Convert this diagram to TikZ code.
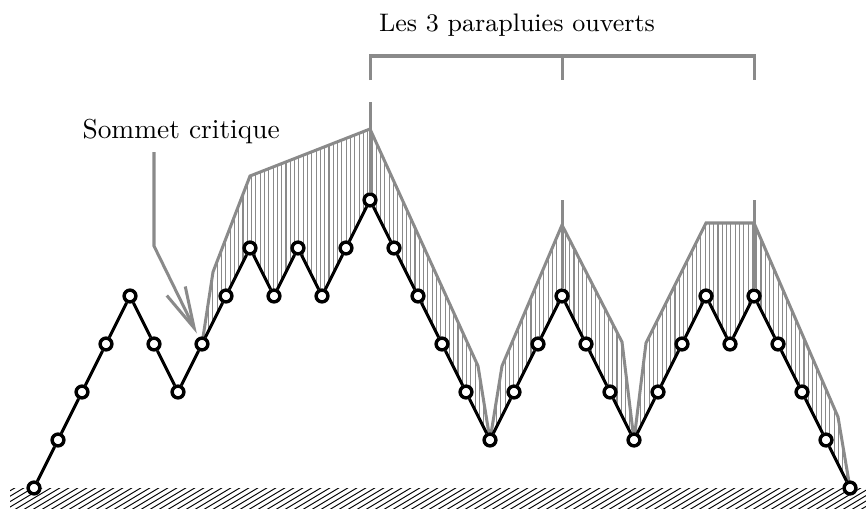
\documentclass[tikz,border=0pt]{standalone}
\usetikzlibrary{arrows.meta}
\definecolor{umbgray}{gray}{0.54}
\begin{document}
\begin{tikzpicture}[x=0.365pt,y=-0.365pt,
  vtx/.style={circle,draw=black,fill=white,line width=1.25pt,inner sep=0pt,minimum size=4.3pt},
  pathline/.style={line width=1.1pt,black,line join=round},
  umb/.style={draw=umbgray,line width=1.1pt,line join=miter},
  hatchline/.style={umbgray,line width=0.4pt},
  groundline/.style={black,line width=0.35pt},
  lbl/.style={font=\fontsize{10}{12}\selectfont,inner sep=0pt}]
\useasboundingbox (0,0) rectangle (866,508);
% vertices of the path
\foreach \h [count=\i from 0] in {0,1,2,3,4,3,2,3,4,5,4,5,4,5,6,5,4,3,2,1,2,3,4,3,2,1,2,3,4,3,4,3,2,1,0}
  {\coordinate (p\i) at ({34+24*\i},{488-48*\h});}
% ground
\begin{scope}
  \clip (10,488) rectangle (866,508);
  \foreach \x in {-40,-31,...,870} \draw[groundline] (\x,510) -- ++(40,-24);
\end{scope}
% umbrella 1
\begin{scope}
  \clip (p7) -- (213,272) -- (250,176) -- (370,129) -- (478,366) -- (p19)
    \foreach \i in {18,17,...,8} { -- (p\i)} -- cycle;
  \foreach \x in {200,204.3,...,492} \draw[hatchline] (\x,100) -- (\x,450);
\end{scope}
\draw[umb] (p7) -- (213,272) -- (250,176) -- (370,129) -- (478,366) -- (p19);
% umbrella 2
\begin{scope}
  \clip (p19) -- (502,366) -- (562,225) -- (622,342) -- (p25)
    \foreach \i in {24,23,...,20} { -- (p\i)} -- cycle;
  \foreach \x in {488,492.3,...,636} \draw[hatchline] (\x,200) -- (\x,450);
\end{scope}
\draw[umb] (p19) -- (502,366) -- (562,225) -- (622,342) -- (p25);
% umbrella 3
\begin{scope}
  \clip (p25) -- (646,343) -- (706,223) -- (754,223) -- (838,417) -- (p34)
    \foreach \i in {33,32,...,26} { -- (p\i)} -- cycle;
  \foreach \x in {632,636.3,...,852} \draw[hatchline] (\x,200) -- (\x,500);
\end{scope}
\draw[umb] (p25) -- (646,343) -- (706,223) -- (754,223) -- (838,417) -- (p34);
% vertex nodes
\foreach \i in {0,...,34} \node[vtx] (v\i) at (p\i) {};
% the path
\draw[pathline] (v0) \foreach \i [remember=\i as \j (initially 0)] in {1,...,34} { (v\j) -- (v\i)};
% handles
\coordinate (h1) at (370,102);
\coordinate (h2) at (562,200);
\coordinate (h3) at (754,200);
\draw[umb] (h1) -- (v14.north);
\draw[umb] (h2) -- (v22.north);
\draw[umb] (h3) -- (v30.north);
% bracket
\coordinate (b1) at (370,80);
\coordinate (b2) at (370,56);
\coordinate (b3) at (754,56);
\coordinate (b4) at (754,80);
\coordinate (b5) at (562,56);
\coordinate (b6) at (562,80);
\draw[umb] (b1) -- (b2) -- (b3) -- (b4);
\draw[umb] (b5) -- (b6);
\node[lbl,font=\fontsize{9.25}{11}\selectfont,anchor=base] (title) at (517,31) {Les 3 parapluies ouverts};
% critical vertex
\node[lbl,anchor=base west] (crit) at (82,138) {Sommet critique};
\coordinate (a0) at (154,152);
\coordinate (a1) at (154,246);
\draw[umb,-{Straight Barb[length=15pt,width=7.5pt,line width=1.1pt]},shorten >=1.5pt] (a0) -- (a1) -- (v7);
\end{tikzpicture}
\end{document}
